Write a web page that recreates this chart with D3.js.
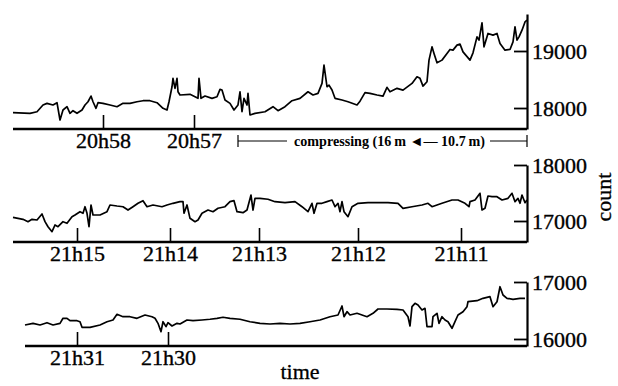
<!DOCTYPE html>
<html>
<head>
<meta charset="utf-8">
<script src="https://cdn.jsdelivr.net/npm/d3@7"></script>
<style>
  html, body { margin: 0; padding: 0; background: #fff; }
  svg { display: block; }
  text { font-family: "Liberation Serif", "DejaVu Serif", serif; fill: #000; }
</style>
</head>
<body>
<svg id="chart" width="618" height="386"></svg>
<script>
// ---------- DATA (x = horizontal position along the recorder strip, value = count) ----------
const trace1 = [
  [0,17918],[17,17907],[24,17935],[30,18053],[34,18082],[40,18053],[44,18093],[47,17790],[50,17965],
  [54,18023],[57,17907],[60,17953],[64,17907],[69,17965],[72,18053],[75,18110],[78,18210],[80,18110],
  [83,17995],[85,18093],[90,18082],[97,18053],[104,18023],[110,18082],[117,18082],[124,18110],[130,18128],
  [137,18128],[144,18093],[150,17995],[154,17965],[156,18110],[159,18373],[160,18520],[162,18345],[164,18520],
  [165,18285],[167,18228],[177,18240],[182,18198],[185,18170],[186,18520],[188,18170],[192,18210],[199,18170],
  [204,18198],[207,18327],[209,18315],[212,18140],[217,18082],[221,17965],[225,18053],[227,18285],[229,17935],
  [231,18170],[234,18053],[235,18257],[237,17878],[242,17907],[252,17935],[260,18023],[265,17953],[272,18023],
  [279,18128],[287,18170],[295,18285],[300,18228],[305,18257],[309,18432],[311,18752],[314,18373],[316,18402],
  [319,18315],[322,18170],[329,18140],[335,18110],[344,18053],[347,18120],[352,18270],[357,18257],[364,18228],
  [370,18210],[374,18362],[377,18285],[384,18345],[390,18315],[399,18432],[404,18548],[407,18520],[410,18385],
  [414,18460],[416,18840],[419,19073],[421,18957],[424,18793],[429,18840],[434,18957],[437,19027],[440,19015],
  [444,19103],[447,19120],[450,18985],[457,18840],[460,18968],[464,19248],[466,19190],[469,19493],[471,19073],
  [475,19308],[480,19278],[484,19308],[487,19133],[492,19015],[497,19027],[500,19160],[502,19423],[504,19190],
  [506,19248],[509,19365],[512,19510],[514,19540]
];
const trace2 = [
  [0,17066],[5,17048],[10,17030],[15,16988],[19,17030],[24,17018],[29,17125],[32,16988],[35,16898],[39,16809],
  [42,16929],[45,16898],[50,16988],[54,16959],[59,17077],[62,17107],[67,17166],[70,17138],[72,17255],[74,17138],
  [76,16898],[78,17286],[80,17107],[87,17107],[94,17166],[97,17286],[104,17268],[110,17255],[115,17196],[120,17255],
  [125,17316],[130,17363],[134,17255],[140,17286],[149,17255],[154,17286],[160,17316],[167,17345],[170,17345],
  [171,17138],[174,17286],[177,17048],[182,16988],[185,17018],[189,17138],[195,17196],[200,17166],[205,17227],
  [212,17255],[217,17345],[221,17363],[224,17166],[230,17148],[234,17196],[238,17464],[240,17196],[242,17405],
  [247,17405],[255,17388],[262,17345],[272,17327],[282,17345],[289,17255],[295,17166],[299,17316],[301,17138],
  [304,17316],[309,17316],[314,17345],[319,17375],[322,17255],[325,17316],[327,17166],[329,17345],[331,17166],
  [335,17077],[339,17255],[345,17316],[355,17327],[365,17327],[375,17327],[385,17316],[390,17227],[399,17255],
  [409,17286],[415,17316],[419,17255],[429,17316],[439,17375],[445,17375],[452,17316],[456,17255],[457,17345],
  [462,17375],[467,17495],[469,17196],[472,17227],[475,17446],[479,17434],[484,17434],[489,17375],[495,17405],
  [499,17495],[502,17345],[505,17405],[507,17316],[509,17464],[512,17327],[514,17375]
];
const trace3 = [
  [12,16246],[20,16275],[27,16246],[34,16286],[40,16246],[47,16275],[50,16363],[54,16363],[57,16321],[64,16321],
  [67,16303],[69,16205],[77,16205],[87,16246],[94,16303],[100,16333],[104,16433],[110,16391],[117,16391],[124,16363],
  [132,16421],[139,16391],[142,16363],[145,16275],[148,16128],[150,16303],[153,16216],[155,16286],[159,16228],
  [164,16275],[167,16263],[174,16333],[180,16321],[189,16333],[197,16346],[204,16363],[210,16381],[217,16363],
  [227,16346],[237,16303],[247,16275],[257,16263],[267,16275],[277,16263],[287,16275],[297,16303],[307,16333],
  [317,16391],[325,16421],[329,16579],[331,16391],[334,16479],[337,16421],[344,16451],[354,16391],[360,16451],
  [365,16526],[374,16526],[384,16521],[390,16509],[395,16391],[397,16228],[399,16567],[402,16626],[405,16596],
  [409,16509],[412,16538],[414,16216],[419,16216],[420,16391],[424,16451],[426,16275],[429,16391],[432,16333],
  [435,16303],[439,16188],[442,16303],[445,16421],[450,16479],[454,16567],[455,16654],[464,16672],[470,16714],
  [477,16742],[480,16567],[484,16654],[487,16917],[490,16772],[494,16714],[500,16696],[507,16714],[512,16714]
];

const timeTicks1 = [90, 181];
const timeLabels1 = ["20h58", "20h57"];
const timeTicks2 = [64, 157, 246, 345, 448];
const timeLabels2 = ["21h15", "21h14", "21h13", "21h12", "21h11"];
const timeTicks3 = [64, 155];
const timeLabels3 = ["21h31", "21h30"];

const countTicks1 = [18000, 19000];
const countTicks2 = [17000, 18000];
const countTicks3 = [16000, 17000];

const countDomain1 = [17632, 19649];
const countDomain2 = [16625, 18000];
const countDomain3 = [15877, 17000];
const stripStart = [0, 0, 12];

const xLabel = "time";
const yLabel = "count";
const compressLabel = "compressing (16\u202Fm \u25C4\u2014 10.7\u202Fm)";
const compressRange = [225, 514];

// ---------- LAYOUT ----------
const svg = d3.select("#chart");
svg.append("rect").attr("width", 618).attr("height", 386).attr("fill", "#fff");

const x = d3.scaleLinear().domain([0, 514]).range([13, 527]);

const panels = [
  { data: trace1, ticks: timeTicks1, labels: timeLabels1, yTicks: countTicks1, domain: countDomain1, top: 14, bottom: 129, start: stripStart[0] },
  { data: trace2, ticks: timeTicks2, labels: timeLabels2, yTicks: countTicks2, domain: countDomain2, top: 165, bottom: 242, start: stripStart[1] },
  { data: trace3, ticks: timeTicks3, labels: timeLabels3, yTicks: countTicks3, domain: countDomain3, top: 282, bottom: 346, start: stripStart[2] }
];

const fontSize = 22;

panels.forEach(p => {
  const y = d3.scaleLinear().domain(p.domain).range([p.bottom, p.top]);
  const g = svg.append("g");

  // baseline
  g.append("line")
    .attr("x1", x(p.start)).attr("x2", x(514))
    .attr("y1", p.bottom).attr("y2", p.bottom)
    .attr("stroke", "#000").attr("stroke-width", 2.4);

  // bottom time ticks
  const xa = d3.axisBottom(x)
    .tickValues(p.ticks)
    .tickFormat((d, i) => p.labels[i])
    .tickSize(-14).tickSizeOuter(0).tickPadding(3.5);
  const gx = g.append("g").attr("transform", `translate(0,${p.bottom})`).call(xa);
  gx.select(".domain").remove();
  gx.selectAll(".tick line").attr("stroke", "#000").attr("stroke-width", 1.6);
  gx.selectAll(".tick text").attr("font-size", fontSize).attr("font-family", "Liberation Serif, serif")
    .attr("fill", "#000").attr("stroke", "#000").attr("stroke-width", 0.35);

  // right count axis
  const ya = d3.axisRight(y)
    .tickValues(p.yTicks)
    .tickFormat(d3.format("d"))
    .tickSize(-13).tickSizeOuter(0).tickPadding(5);
  const gy = g.append("g").attr("transform", `translate(${x(514)},0)`).call(ya);
  gy.select(".domain").attr("stroke", "#000").attr("stroke-width", 2.2);
  gy.selectAll(".tick line").attr("stroke", "#000").attr("stroke-width", 1.8);
  gy.selectAll(".tick text").attr("font-size", fontSize).attr("font-family", "Liberation Serif, serif")
    .attr("fill", "#000").attr("stroke", "#000").attr("stroke-width", 0.35);

  // trace
  const line = d3.line().x(d => x(d[0])).y(d => y(d[1]));
  g.append("path")
    .datum(p.data)
    .attr("d", line)
    .attr("fill", "none")
    .attr("stroke", "#000")
    .attr("stroke-width", 1.7)
    .attr("stroke-linejoin", "round");
});

// compressing annotation under panel 1
const cy = 141;
const ca = svg.append("g");
ca.append("line").attr("x1", x(compressRange[0])).attr("x2", x(compressRange[0]))
  .attr("y1", cy - 6).attr("y2", cy + 6).attr("stroke", "#000").attr("stroke-width", 1.2);
ca.append("line").attr("x1", x(compressRange[1])).attr("x2", x(compressRange[1]))
  .attr("y1", cy - 6).attr("y2", cy + 6).attr("stroke", "#000").attr("stroke-width", 1.2);
ca.append("line").attr("x1", x(compressRange[0])).attr("x2", x(compressRange[0]) + 49)
  .attr("y1", cy).attr("y2", cy).attr("stroke", "#000").attr("stroke-width", 1);
ca.append("line").attr("x1", x(compressRange[1]) - 37).attr("x2", x(compressRange[1]))
  .attr("y1", cy).attr("y2", cy).attr("stroke", "#000").attr("stroke-width", 1);
ca.append("text")
  .attr("x", 294).attr("y", cy + 5)
  .attr("font-size", 14).attr("font-weight", "bold")
  .attr("textLength", 191).attr("lengthAdjust", "spacingAndGlyphs")
  .text(compressLabel);

// axis titles
svg.append("text")
  .attr("x", 300).attr("y", 379)
  .attr("text-anchor", "middle")
  .attr("font-size", 22)
  .attr("stroke", "#000").attr("stroke-width", 0.3)
  .text(xLabel);

svg.append("text")
  .attr("transform", "translate(611,197) rotate(-90)")
  .attr("text-anchor", "middle")
  .attr("font-size", 22)
  .attr("stroke", "#000").attr("stroke-width", 0.3)
  .text(yLabel);
</script>
</body>
</html>
